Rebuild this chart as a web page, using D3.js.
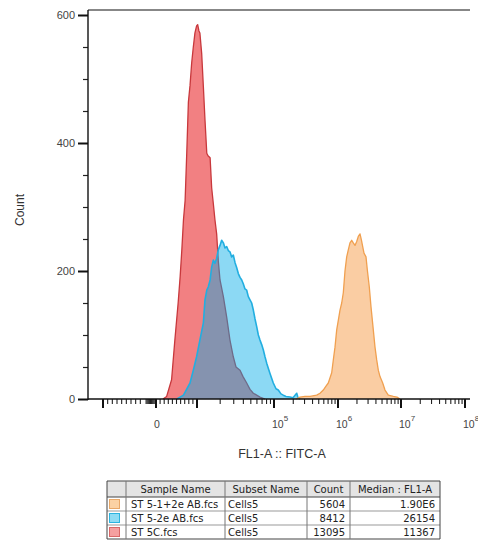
<!DOCTYPE html>
<html><head><meta charset="utf-8">
<script src="https://cdn.jsdelivr.net/npm/d3@7"></script>
<style>body{margin:0;background:#fff}</style>
</head><body><svg id="chart" width="478" height="554"></svg>
<script>
// Overlaid FL1-A histograms with a sample statistics table underneath

const countTicks = [0, 200, 400, 600];
const countMinorTicks = [50, 100, 150, 250, 300, 350, 450, 500, 550];
const fl1MajorTicks = [-1e4, 0, 1e4, 1e5, 1e6, 1e7, 1e8];
const fl1LabelTicks = [0, 1e5, 1e6, 1e7, 1e8];
const fl1LabelExps = [null, 5, 6, 7, 8];

// ST 5C.fcs
const redX = [1700, 2600, 3800, 4600, 5400, 5900, 6300, 6700, 7100, 7500, 7900, 8300, 8700, 9100, 9500, 9900,
  10200, 10600, 10900, 11500, 12100, 12700, 13400, 13900, 14800, 15500, 16300, 17100, 18000, 18900, 19900,
  22000, 24300, 26800, 29600, 32100, 36200, 39600, 44200, 48800, 53900, 65800, 76400];
const redCount = [0, 4, 30, 92, 150, 192, 233, 280, 310, 384, 464, 490, 525, 550, 572, 583,
  585, 575, 572, 540, 488, 436, 384, 380, 377, 330, 305, 280, 258, 216, 186,
  160, 128, 92, 66, 50, 45, 35, 25, 15, 9, 3, 0];

// ST 5-2e AB.fcs
const blueX = [5100, 6700, 8300, 9100, 9900, 10900, 12100, 12700, 13400, 14000, 14800, 15500, 16300, 17100,
  18000, 18900, 19900, 20900, 22000, 23100, 24300, 25500, 26800, 28200, 29600, 31200, 32800, 34400, 36200,
  38100, 39900, 42000, 44200, 46400, 48800, 51300, 53900, 56700, 59600, 62600, 65800, 69200, 72600, 76400,
  80400, 84300, 88700, 97900, 107500, 116700, 128600, 139800, 154000, 177800, 198100, 226300, 237100, 254900];
const blueCount = [0, 6, 25, 45, 66, 92, 119, 155, 170, 175, 186, 206, 217, 212,
  220, 233, 240, 248, 244, 236, 238, 232, 230, 222, 225, 213, 205, 196, 190,
  186, 180, 172, 170, 160, 155, 150, 139, 125, 113, 100, 92, 85, 77, 66,
  56, 48, 40, 25, 16, 14, 8, 6, 4, 3, 2, 9, 2, 0];

// ST 5-1+2e AB.fcs
const orangeX = [220700, 254900, 305100, 365200, 464800, 523400, 589300, 649400, 705300, 797400, 844600,
  897600, 954300, 1011000, 1076000, 1145000, 1214000, 1291000, 1374000, 1457000, 1550000, 1650000,
  1750000, 1862000, 1981000, 2100000, 2235000, 2360000, 2467000, 2586000, 2783000, 2919000, 3140000,
  3341000, 3634000, 3867000, 4115000, 4362000, 4642000, 5124000, 5572000, 6286000, 7549000, 8641000, 9641000];
const orangeCount = [0, 3, 4, 4, 6, 9, 14, 20, 25, 41, 61,
  81, 108, 123, 139, 150, 166, 200, 222, 233, 244, 248,
  244, 240, 246, 254, 258, 248, 238, 228, 222, 202, 175,
  144, 108, 81, 61, 45, 35, 25, 14, 6, 4, 3, 0];

const tableHeaders = ["Sample Name", "Subset Name", "Count", "Median : FL1-A"];
const sampleNames = ["ST 5-1+2e AB.fcs", "ST 5-2e AB.fcs", "ST 5C.fcs"];
const subsetNames = ["Cells5", "Cells5", "Cells5"];
const eventCounts = ["5604", "8412", "13095"];
const medianLabels = ["1.90E6", "26154", "11367"];

const svg = d3.select("#chart");
const FONT = "Liberation Sans, Arial, sans-serif";

// biexponential-style display: linear around zero, log10 above 10^4
const disp = v => Math.abs(v) >= 1e4 ? Math.sign(v) * Math.log10(Math.abs(v)) : v * 4e-4;
const x = d3.scaleLinear()
  .domain([-4, -0.4, 0, 4, 5, 6, 7, 8])
  .range([103, 145, 156, 197, 274, 338, 401, 465]);
const px = v => x(disp(v));
const y = d3.scaleLinear().domain([0, 600]).range([399, 15]);

const plotLeft = 88, plotRight = 470, plotTop = 10, plotBottom = 399;

// histograms: control first, stained samples over it
const series = [
  { xs: redX, ys: redCount, fill: "rgba(235,62,66,0.66)", stroke: "#c8383c", sw: 1.3 },
  { xs: blueX, ys: blueCount, fill: "rgba(0,170,230,0.45)", stroke: "#22aee0", sw: 1.6 },
  { xs: orangeX, ys: orangeCount, fill: "rgba(246,160,78,0.52)", stroke: "#f0a050", sw: 1.3 }
];
const area = d3.area().x(d => px(d[0])).y0(y(0)).y1(d => y(d[1]));
const line = d3.line().x(d => px(d[0])).y(d => y(d[1]));
series.forEach(s => {
  const pts = s.xs.map((v, i) => [v, s.ys[i]]);
  svg.append("path").attr("d", area(pts)).attr("fill", s.fill);
  svg.append("path").attr("d", line(pts)).attr("fill", "none")
    .attr("stroke", s.stroke).attr("stroke-width", s.sw).attr("stroke-linejoin", "round");
});

// frame
svg.append("line").attr("x1", plotLeft).attr("x2", plotRight).attr("y1", plotTop).attr("y2", plotTop)
  .attr("stroke", "#111").attr("stroke-width", 1.2);

// y axis
const yMinor = svg.append("g").attr("transform", `translate(${plotLeft},0)`)
  .call(d3.axisLeft(y).tickValues(countMinorTicks).tickSize(5).tickFormat(""));
yMinor.select(".domain").remove();
yMinor.selectAll("line").attr("stroke", "#222").attr("stroke-width", 1.2);
const yMajor = svg.append("g").attr("transform", `translate(${plotLeft},0)`)
  .call(d3.axisLeft(y).tickValues(countTicks).tickSize(10).tickPadding(3));
yMajor.select(".domain").remove();
yMajor.selectAll("line").attr("stroke", "#111").attr("stroke-width", 2);
yMajor.selectAll("text").attr("font-family", FONT).attr("font-size", 11).attr("fill", "#444");
svg.append("line").attr("x1", plotLeft).attr("x2", plotLeft).attr("y1", plotTop).attr("y2", plotBottom + 1)
  .attr("stroke", "#111").attr("stroke-width", 1.4);

// x axis ticks
const minorVals = [];
for (let k = 2; k <= 9; k++) minorVals.push(-k * 1e3);
for (let k = 1; k <= 9; k++) minorVals.push(-k * 100);
for (let k = 1; k <= 9; k++) minorVals.push(k * 1e3);
for (let d = 4; d <= 7; d++) for (let k = 2; k <= 9; k++) minorVals.push(k * Math.pow(10, d));
const xTickG = svg.append("g").attr("transform", `translate(0,${plotBottom})`);
xTickG.selectAll("line.minor").data(minorVals).join("line").attr("class", "minor")
  .attr("x1", d => px(d)).attr("x2", d => px(d)).attr("y1", 0).attr("y2", 5)
  .attr("stroke", "#222").attr("stroke-width", 1.1);
xTickG.selectAll("line.major").data(fl1MajorTicks).join("line").attr("class", "major")
  .attr("x1", d => px(d)).attr("x2", d => px(d)).attr("y1", 0).attr("y2", 9)
  .attr("stroke", "#111").attr("stroke-width", 2);
svg.append("line").attr("x1", plotLeft).attr("x2", plotRight).attr("y1", plotBottom).attr("y2", plotBottom)
  .attr("stroke", "#111").attr("stroke-width", 1.4);

// x tick labels
fl1LabelTicks.forEach((v, i) => {
  const e = fl1LabelExps[i];
  if (e === null) {
    svg.append("text").attr("x", px(v) + 1).attr("y", 428).attr("text-anchor", "middle")
      .attr("font-family", FONT).attr("font-size", 10.5).attr("fill", "#444").text("0");
  } else {
    const t = svg.append("text").attr("x", px(v) - 2).attr("y", 428)
      .attr("font-family", FONT).attr("font-size", 10.5).attr("fill", "#444");
    t.append("tspan").text("10");
    t.append("tspan").attr("dy", -7).attr("font-size", 8).text(String(e));
  }
});

// axis titles
svg.append("text").attr("x", 282).attr("y", 458).attr("text-anchor", "middle")
  .attr("font-family", FONT).attr("font-size", 12.5).attr("fill", "#333").text("FL1-A :: FITC-A");
svg.append("text").attr("transform", "translate(24,210) rotate(-90)").attr("text-anchor", "middle")
  .attr("font-family", FONT).attr("font-size", 12).attr("fill", "#333").text("Count");

// statistics table
const colX = [107, 126, 225, 307, 350, 440];
const headTop = 481, headH = 16, rowH = 14;
const swatchFill = ["#fbd2a4", "#8fdcf4", "#f5a0a0"];
const swatchStroke = ["#e8a868", "#2cb4e0", "#d86868"];
const TF = "DejaVu Sans, Verdana, sans-serif";
const tbl = svg.append("g");
tbl.append("rect").attr("x", colX[0]).attr("y", headTop).attr("width", colX[5] - colX[0]).attr("height", headH)
  .attr("fill", "#e4e4e4");
// horizontal rules
for (let r = 0; r <= 4; r++) {
  const yy = r === 0 ? headTop : headTop + headH + (r - 1) * rowH;
  tbl.append("line").attr("x1", colX[0]).attr("x2", colX[5]).attr("y1", yy).attr("y2", yy)
    .attr("stroke", r <= 1 || r === 4 ? "#444" : "#999").attr("stroke-width", 1);
}
colX.forEach((cx, i) => {
  tbl.append("line").attr("x1", cx).attr("x2", cx).attr("y1", headTop).attr("y2", headTop + headH + 3 * rowH)
    .attr("stroke", i === 0 || i === 5 ? "#444" : "#777").attr("stroke-width", 1);
});
tableHeaders.forEach((h, i) => {
  tbl.append("text").attr("x", (colX[i + 1] + colX[i + 2]) / 2).attr("y", headTop + 12)
    .attr("text-anchor", "middle").attr("font-family", TF).attr("font-size", 10).attr("fill", "#222").text(h);
});
sampleNames.forEach((name, r) => {
  const top = headTop + headH + r * rowH;
  const by = top + 10.5;
  tbl.append("rect").attr("x", 109.5).attr("y", top + 2.5).attr("width", 10).attr("height", 9)
    .attr("fill", swatchFill[r]).attr("stroke", swatchStroke[r]).attr("stroke-width", 1);
  tbl.append("text").attr("x", colX[1] + 5).attr("y", by).attr("font-family", TF).attr("font-size", 10)
    .attr("fill", "#222").text(name);
  tbl.append("text").attr("x", colX[2] + 3).attr("y", by).attr("font-family", TF).attr("font-size", 10)
    .attr("fill", "#222").text(subsetNames[r]);
  tbl.append("text").attr("x", colX[4] - 5).attr("y", by).attr("text-anchor", "end").attr("font-family", TF)
    .attr("font-size", 10).attr("fill", "#222").text(eventCounts[r]);
  tbl.append("text").attr("x", colX[5] - 5).attr("y", by).attr("text-anchor", "end").attr("font-family", TF)
    .attr("font-size", 10).attr("fill", "#222").text(medianLabels[r]);
});
</script></body></html>
